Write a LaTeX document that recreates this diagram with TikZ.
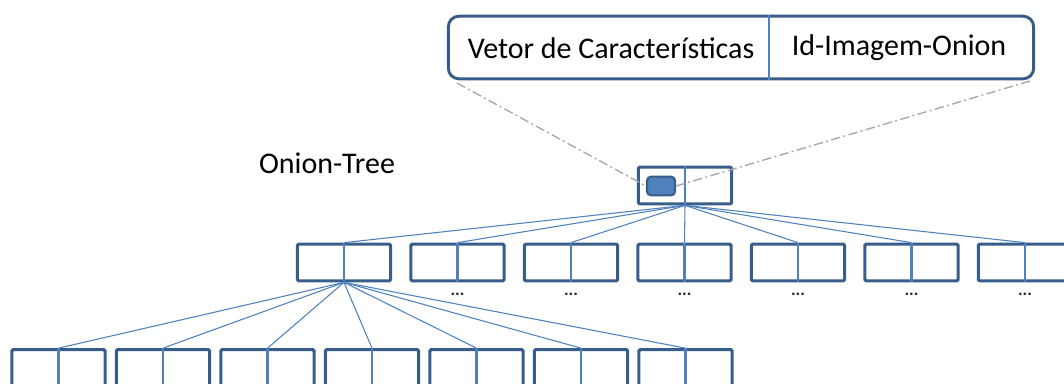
\documentclass[tikz,border=0pt]{standalone}
\usepackage{fontspec}
\setmainfont{Carlito}
\usetikzlibrary{calc}
\definecolor{boxdark}{HTML}{385D8A}
\definecolor{boxlight}{HTML}{4F81BD}
\definecolor{dashgray}{HTML}{A6A6A6}
\begin{document}
\begin{tikzpicture}[x=0.75pt,y=-0.75pt,
  cell/.style={draw=boxdark,line width=2.3pt,minimum width=70pt,minimum height=27.5pt,inner sep=0pt,rounded corners=1pt},
  divline/.style={draw=boxlight,line width=1.6pt},
  conn/.style={draw=boxlight,line width=0.8pt},
  dotstyle/.style={font=\bfseries\fontsize{13pt}{13pt}\selectfont,text=black!85,inner sep=0pt},
  lbl/.style={font=\fontsize{22.5pt}{26pt}\selectfont,inner sep=0pt},
  dashdot/.style={draw=dashgray,line width=1pt,dash pattern=on 7pt off 2.5pt on 1.5pt off 2.5pt}]
\useasboundingbox (0,0) rectangle (1064,383);
% top record box
\node[draw=boxdark,line width=2.2pt,rounded corners=8pt,minimum width=439pt,minimum height=47pt,inner sep=0pt] (top) at (741,47.5) {};
\draw[draw=boxlight,line width=0.8pt] (769,15) -- (769,80);
\node[lbl] (t1) at (611,48) {Vetor de Características};
\node[lbl] (t2) at (899,48) {Id-Imagem-Onion};
\node[lbl] (title) at (327,163) {Onion-Tree};
% root
\node[cell] (r) at (685,185.5) {};
\draw[divline] (r.north) -- (r.south);
\node[draw=boxdark,fill=boxlight,line width=1.6pt,rounded corners=3pt,minimum width=21pt,minimum height=14pt,inner sep=0pt] (k) at (661,186) {};
\coordinate (cl) at (457,83);
\coordinate (cr) at (1030,81);
\draw[dashdot] (cl) -- (k.west);
\draw[dashdot] (cr) -- (k.east);
% level 2
\foreach \i in {0,...,6}{
  \pgfmathsetmacro{\xx}{344+113.5*\i}
  \node[cell] (a\i) at (\xx,262.5) {};
  \draw[divline] (a\i.north) -- (a\i.south);
  \draw[conn] (r.south) -- (a\i.north);
}
\foreach \i in {1,...,6}{
  \node[dotstyle] (d\i) at ($(a\i.south)+(0,12)$) {...};
}
% level 3
\foreach \j in {0,...,6}{
  \pgfmathsetmacro{\xx}{58.5+104.5*\j}
  \node[cell] (b\j) at (\xx,368) {};
  \draw[divline] (b\j.north) -- (b\j.south);
  \draw[conn] (a0.south) -- (b\j.north);
}
\end{tikzpicture}
\end{document}
